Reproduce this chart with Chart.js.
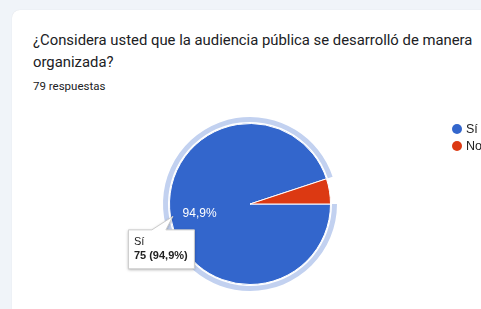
<!DOCTYPE html>
<html>
<head>
<meta charset="utf-8">
<script src="https://cdn.jsdelivr.net/npm/chart.js@4/dist/chart.umd.min.js"></script>
<style>
  body { margin: 0; width: 481px; height: 309px; overflow: hidden; background: #f0f4f9; font-family: Roboto, Arial, sans-serif; }
  .card { position: absolute; left: 12px; top: 10px; width: 490px; height: 320px; background: #fff; border-radius: 8px; box-shadow: 0 0 1px rgba(0,0,0,0.12); }
  .title { position: absolute; left: 33px; top: 29px; font-size: 14.85px; line-height: 22px; color: #202124; white-space: nowrap; }
  .sub { position: absolute; left: 33px; top: 79px; font-size: 11.5px; color: #202124; }
  .wrap { position: absolute; left: 0; top: 100px; width: 481px; height: 209px; }
</style>
</head>
<body>
<div class="card"></div>
<div class="title">¿Considera usted que la audiencia pública se desarrolló de manera<br>organizada?</div>
<div class="sub">79 respuestas</div>
<div class="wrap"><canvas id="pieChart"></canvas></div>
<script>
const labels = ["Sí", "No"];
const counts = [75, 4];
const colors = ["#3366cc", "#dc3912"];
const total = counts.reduce((a, b) => a + b, 0);
const pct = v => (v / total * 100).toFixed(1).replace(".", ",") + "%";

// white percentage text inside big slices
const sliceLabels = {
  id: "sliceLabels",
  afterDatasetsDraw(chart) {
    const ctx = chart.ctx;
    const meta = chart.getDatasetMeta(2);
    meta.data.forEach((arc, i) => {
      if (counts[i] / total < 0.1) return;
      const a = (arc.startAngle + arc.endAngle) / 2;
      const r = arc.outerRadius * 0.66;
      ctx.save();
      ctx.fillStyle = "#fff";
      ctx.font = "12px Arial, sans-serif";
      ctx.textAlign = "center";
      ctx.textBaseline = "middle";
      ctx.fillText(pct(counts[i]), arc.x + Math.cos(a) * r + 2, arc.y + Math.sin(a) * r + 1);
      ctx.restore();
    });
  }
};

// legend with round dots, top right
const dotLegend = {
  id: "dotLegend",
  afterDraw(chart) {
    const ctx = chart.ctx;
    labels.forEach((lab, i) => {
      const y = 29 + i * 17;
      ctx.save();
      ctx.fillStyle = colors[i];
      ctx.beginPath();
      ctx.arc(457, y, 5, 0, Math.PI * 2);
      ctx.fill();
      ctx.fillStyle = "#222";
      ctx.font = "12.5px Arial, sans-serif";
      ctx.textBaseline = "middle";
      ctx.fillText(lab, 466, y + 1);
      ctx.restore();
    });
  }
};

// hover tooltip on the "Sí" slice
const hoverTip = {
  id: "hoverTip",
  afterDraw(chart) {
    const ctx = chart.ctx;
    const arc = chart.getDatasetMeta(2).data[0];
    const a = (arc.startAngle + arc.endAngle) / 2;
    const px = arc.x + Math.cos(a) * arc.outerRadius * 0.97;
    const py = arc.y + Math.sin(a) * arc.outerRadius * 0.97;
    const bx = px - 45, by = py + 13, bw = 66, bh = 39;
    ctx.save();
    ctx.shadowColor = "rgba(0,0,0,0.35)";
    ctx.shadowBlur = 3;
    ctx.shadowOffsetY = 1;
    ctx.fillStyle = "#fff";
    ctx.strokeStyle = "#ccc";
    ctx.lineWidth = 1;
    ctx.beginPath();
    ctx.moveTo(bx + 0.5, by + 0.5);
    ctx.lineTo(px - 21, by + 0.5);
    ctx.lineTo(px, py);
    ctx.lineTo(px - 7, by + 0.5);
    ctx.lineTo(bx + bw + 0.5, by + 0.5);
    ctx.lineTo(bx + bw + 0.5, by + bh + 0.5);
    ctx.lineTo(bx + 0.5, by + bh + 0.5);
    ctx.closePath();
    ctx.fill();
    ctx.shadowColor = "transparent";
    ctx.stroke();
    ctx.fillStyle = "#222";
    ctx.textBaseline = "alphabetic";
    ctx.font = "11px Arial, sans-serif";
    ctx.fillText(labels[0], bx + 6, by + 16);
    ctx.font = "bold 11px Arial, sans-serif";
    ctx.fillText(counts[0] + " (" + pct(counts[0]) + ")", bx + 6, by + 30);
    ctx.restore();
  }
};

new Chart(document.getElementById("pieChart"), {
  type: "pie",
  data: {
    labels: labels,
    datasets: [
      { data: counts, backgroundColor: ["#c2d1f0", "rgba(0,0,0,0)"], borderWidth: 0, weight: 5 },
      { data: counts, backgroundColor: ["rgba(0,0,0,0)", "rgba(0,0,0,0)"], borderWidth: 0, weight: 1.5 },
      { data: counts, backgroundColor: colors, borderColor: "#fff", borderWidth: 1, weight: 80.5 }
    ]
  },
  options: {
    responsive: true,
    maintainAspectRatio: false,
    animation: false,
    rotation: 90,
    events: [],
    layout: { padding: { left: 163, right: 144, top: 17, bottom: 18 } },
    plugins: {
      legend: { display: false },
      tooltip: { enabled: false }
    }
  },
  plugins: [sliceLabels, dotLegend, hoverTip]
});
</script>
</body>
</html>
